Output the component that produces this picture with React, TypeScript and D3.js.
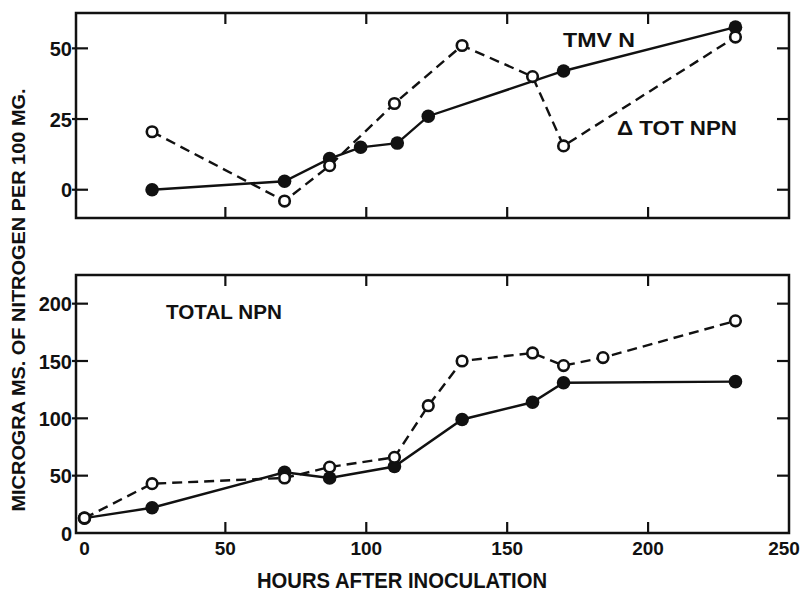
import React from "react";
import * as d3 from "d3";

// Top panel: TMV N (filled, solid) and delta total NPN (open, dashed)
const tmvHours = [24, 71, 87, 98, 111, 122, 170, 231];
const tmvN = [0, 3, 11, 15, 16.5, 26, 42, 57.5];
const deltaHours = [24, 71, 87, 110, 134, 159, 170, 231];
const deltaNpn = [20.5, -4, 8.5, 30.5, 51, 40, 15.5, 54];

// Bottom panel: total NPN
const npnOpenHours = [0, 24, 71, 87, 110, 122, 134, 159, 170, 184, 231];
const npnOpen = [13, 43, 48, 57.5, 66, 111, 150, 157, 146, 153, 185];
const npnFilledHours = [0, 24, 71, 87, 110, 134, 159, 170, 231];
const npnFilled = [13, 22, 53, 48, 58, 99, 114, 131, 132];

const xTicks = [0, 50, 100, 150, 200, 250];
const topYTicks = [0, 25, 50];
const bottomYTicks = [0, 50, 100, 150, 200];

const FONT = "'Liberation Sans', Arial, sans-serif";

export default function App() {
  const x = d3.scaleLinear().domain([-3, 250]).range([76, 789]);
  const yTop = d3.scaleLinear().domain([-10, 62.5]).range([218, 13]);
  const yBot = d3.scaleLinear().domain([0, 225]).range([533, 275]);

  const mk = (hs: number[], vs: number[]) => hs.map((h, i) => [h, vs[i]] as [number, number]);
  const lineTop = d3.line<[number, number]>().x(d => x(d[0])).y(d => yTop(d[1]));
  const lineBot = d3.line<[number, number]>().x(d => x(d[0])).y(d => yBot(d[1]));

  const tmv = mk(tmvHours, tmvN);
  const delta = mk(deltaHours, deltaNpn);
  const nOpen = mk(npnOpenHours, npnOpen);
  const nFilled = mk(npnFilledHours, npnFilled);

  const inner = [50, 100, 150, 200];
  const stroke = "#111";

  const frame = (y: d3.ScaleLinear<number, number>, yTicks: number[]) => {
    const [y0, y1] = y.range();
    const xl = x(-3), xr = x(250);
    return (
      <g>
        <rect x={xl} y={y1} width={xr - xl} height={y0 - y1} fill="none" stroke={stroke} strokeWidth={2.5} />
        {inner.map(t => (
          <g key={"xt" + t}>
            <line x1={x(t)} x2={x(t)} y1={y1} y2={y1 + 11} stroke={stroke} strokeWidth={2.2} />
            <line x1={x(t)} x2={x(t)} y1={y0} y2={y0 - 11} stroke={stroke} strokeWidth={2.2} />
          </g>
        ))}
        {yTicks.filter(t => y(t) < y0 - 2).map(t => (
          <g key={"yt" + t}>
            <line x1={xl - 4} x2={xl + 12} y1={y(t)} y2={y(t)} stroke={stroke} strokeWidth={2.2} />
            <line x1={xr} x2={xr - 12} y1={y(t)} y2={y(t)} stroke={stroke} strokeWidth={2.2} />
          </g>
        ))}
        {yTicks.map(t => (
          <text key={"yl" + t} x={xl - 4} y={y(t) + 7.5} textAnchor="end" fontFamily={FONT} fontWeight="bold" fontSize={20} fill={stroke}>
            {t}
          </text>
        ))}
      </g>
    );
  };

  const filled = (pts: [number, number][], y: d3.ScaleLinear<number, number>) =>
    pts.map((p, i) => <circle key={i} cx={x(p[0])} cy={y(p[1])} r={6.8} fill={stroke} />);
  const open = (pts: [number, number][], y: d3.ScaleLinear<number, number>) =>
    pts.map((p, i) => <circle key={i} cx={x(p[0])} cy={y(p[1])} r={5.3} fill="#fff" stroke={stroke} strokeWidth={2.6} />);

  return (
    <svg width={804} height={594} style={{ position: "absolute", left: 0, top: 0, background: "#fff" }}>
      <rect x={0} y={0} width={804} height={594} fill="#fff" />
      {frame(yTop, topYTicks)}
      {frame(yBot, bottomYTicks)}

      {/* top panel */}
      <path d={lineTop(tmv) || ""} fill="none" stroke={stroke} strokeWidth={2.4} />
      <path d={lineTop(delta) || ""} fill="none" stroke={stroke} strokeWidth={2.4} strokeDasharray="10,6" />
      {filled(tmv, yTop)}
      {open(delta, yTop)}

      {/* bottom panel */}
      <path d={lineBot(nFilled) || ""} fill="none" stroke={stroke} strokeWidth={2.4} />
      <path d={lineBot(nOpen) || ""} fill="none" stroke={stroke} strokeWidth={2.4} strokeDasharray="10,6" />
      {filled(nFilled, yBot)}
      {open(nOpen, yBot)}

      {/* labels */}
      <text x={563} y={47} fontFamily={FONT} fontWeight="bold" fontSize={20} textLength={72} lengthAdjust="spacingAndGlyphs" fill={stroke}>TMV  N</text>
      <text x={617} y={135} fontFamily={FONT} fontWeight="bold" fontSize={20} textLength={120} lengthAdjust="spacingAndGlyphs" fill={stroke}>Δ TOT  NPN</text>
      <text x={166} y={319} fontFamily={FONT} fontWeight="bold" fontSize={20} textLength={116} lengthAdjust="spacingAndGlyphs" fill={stroke}>TOTAL  NPN</text>

      {xTicks.map(t => (
        <text key={"xl" + t} x={Math.min(x(t), 784)} y={555} textAnchor="middle" fontFamily={FONT} fontWeight="bold" fontSize={19} fill={stroke}>
          {t}
        </text>
      ))}

      <text x={402} y={588} textAnchor="middle" fontFamily={FONT} fontWeight="bold" fontSize={22} textLength={290} lengthAdjust="spacingAndGlyphs" fill={stroke}>
        HOURS AFTER INOCULATION
      </text>
      <text transform="translate(25,300) rotate(-90)" textAnchor="middle" fontFamily={FONT} fontWeight="bold" fontSize={19} textLength={423} lengthAdjust="spacingAndGlyphs" fill={stroke}>
        MICROGRA MS. OF NITROGEN PER 100 MG.
      </text>
    </svg>
  );
}
